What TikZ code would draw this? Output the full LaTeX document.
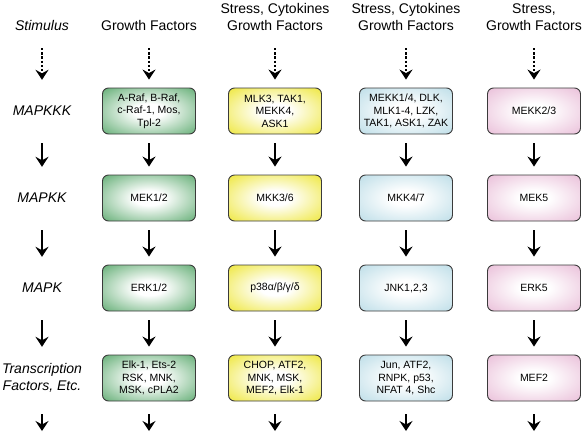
\documentclass[tikz,border=0pt]{standalone}
\usepackage{fontspec}
\setmainfont{Liberation Sans}
\usetikzlibrary{arrows.meta,positioning}
\definecolor{rafgreen}{HTML}{58A86B}
\definecolor{p38yellow}{HTML}{EDE52E}
\definecolor{jnkblue}{HTML}{B8DBE6}
\definecolor{erkpink}{HTML}{E8BAD6}
\definecolor{edge}{HTML}{3A3A3A}
\colorlet{boxtint}{rafgreen}
\pgfdeclareradialshading[boxtint]{glow}{\pgfpoint{0bp}{0bp}}{%
  color(0bp)=(white); color(8bp)=(white); color(38bp)=(boxtint); color(75bp)=(boxtint)}

\begin{document}
\begin{tikzpicture}[
    x=1pt, y=-1pt,
    kinase/.style={draw=edge, line width=0.9pt, rounded corners=6pt, shading=glow,
      minimum width=93pt, minimum height=46pt, inner sep=1pt, align=center,
      font=\fontsize{10.5}{12.5}\selectfont},
    tint/.code={\colorlet{boxtint}{#1}},
    level/.style={minimum height=46pt, inner sep=0pt, align=center,
      font=\fontsize{14}{17}\selectfont\itshape},
    header/.style={anchor=south, inner sep=0pt, text depth=2pt, align=center,
      font=\fontsize{14}{17}\selectfont},
    step arrow/.style={-{Stealth[length=10pt,width=13pt,inset=3.5pt]}, line width=2.4pt,
      shorten <=9pt, shorten >=8pt},
    signal arrow/.style={step arrow, dash pattern=on 2.4pt off 1.8pt,
      shorten <=15pt, shorten >=8pt}
]
    \useasboundingbox (0,0) rectangle (584,432);

    % stimulus row
    \node[header, font=\fontsize{14}{17}\selectfont\itshape] (stim) at (42,33) {Stimulus};
    \node[header] (stimA) at (149,33) {Growth Factors};
    \node[header] (stimB) at (275,33) {Stress, Cytokines\\Growth Factors};
    \node[header] (stimC) at (406,33) {Stress, Cytokines\\Growth Factors};
    \node[header] (stimD) at (534,33) {Stress,\\Growth Factors};

    % level labels
    \node[level] (mkkk) at (42,111) {MAPKKK};
    \node[level] (mkk) at (42,198) {MAPKK};
    \node[level] (mk) at (42,288) {MAPK};
    \node[level] (tf) at (42,378) {Transcription\\Factors, Etc.};

    % ERK pathway
    \node[kinase, tint=rafgreen] (kkkA) at (149,111) {A-Raf, B-Raf,\\c-Raf-1, Mos,\\Tpl-2};
    \node[kinase, tint=rafgreen] (kkA) at (149,198) {MEK1/2};
    \node[kinase, tint=rafgreen] (kA) at (149,288) {ERK1/2};
    \node[kinase, tint=rafgreen] (tfA) at (149,378) {Elk-1, Ets-2\\RSK, MNK,\\MSK, cPLA2};

    % p38 pathway
    \node[kinase, tint=p38yellow] (kkkB) at (275,111) {MLK3, TAK1,\\MEKK4,\\ASK1};
    \node[kinase, tint=p38yellow] (kkB) at (275,198) {MKK3/6};
    \node[kinase, tint=p38yellow] (kB) at (275,288) {p38α/β/γ/δ};
    \node[kinase, tint=p38yellow] (tfB) at (275,378) {CHOP, ATF2,\\MNK, MSK,\\MEF2, Elk-1};

    % JNK pathway
    \node[kinase, tint=jnkblue] (kkkC) at (406,111) {MEKK1/4, DLK,\\MLK1-4, LZK,\\TAK1, ASK1, ZAK};
    \node[kinase, tint=jnkblue] (kkC) at (406,198) {MKK4/7};
    \node[kinase, tint=jnkblue] (kC) at (406,288) {JNK1,2,3};
    \node[kinase, tint=jnkblue] (tfC) at (406,378) {Jun, ATF2,\\RNPK, p53,\\NFAT 4, Shc};

    % ERK5 pathway
    \node[kinase, tint=erkpink] (kkkD) at (534,111) {MEKK2/3};
    \node[kinase, tint=erkpink] (kkD) at (534,198) {MEK5};
    \node[kinase, tint=erkpink] (kD) at (534,288) {ERK5};
    \node[kinase, tint=erkpink] (tfD) at (534,378) {MEF2};

    % open ends at the bottom
    \foreach \col/\x in {0/42, A/149, B/275, C/406, D/534}
        \coordinate (out\col) at (\x,431);

    % connectors
    \draw[signal arrow] (stim) -- (mkkk);
    \draw[step arrow] (mkkk) -- (mkk);
    \draw[step arrow] (mkk) -- (mk);
    \draw[step arrow] (mk) -- (tf);
    \draw[step arrow, shorten <=13pt, shorten >=0pt] (tf) -- (out0);
    \foreach \col in {A,B,C,D} {
        \draw[signal arrow] (stim\col) -- (kkk\col);
        \draw[step arrow] (kkk\col) -- (kk\col);
        \draw[step arrow] (kk\col) -- (k\col);
        \draw[step arrow] (k\col) -- (tf\col);
        \draw[step arrow, shorten <=13pt, shorten >=0pt] (tf\col) -- (out\col);
    }
\end{tikzpicture}
\end{document}
